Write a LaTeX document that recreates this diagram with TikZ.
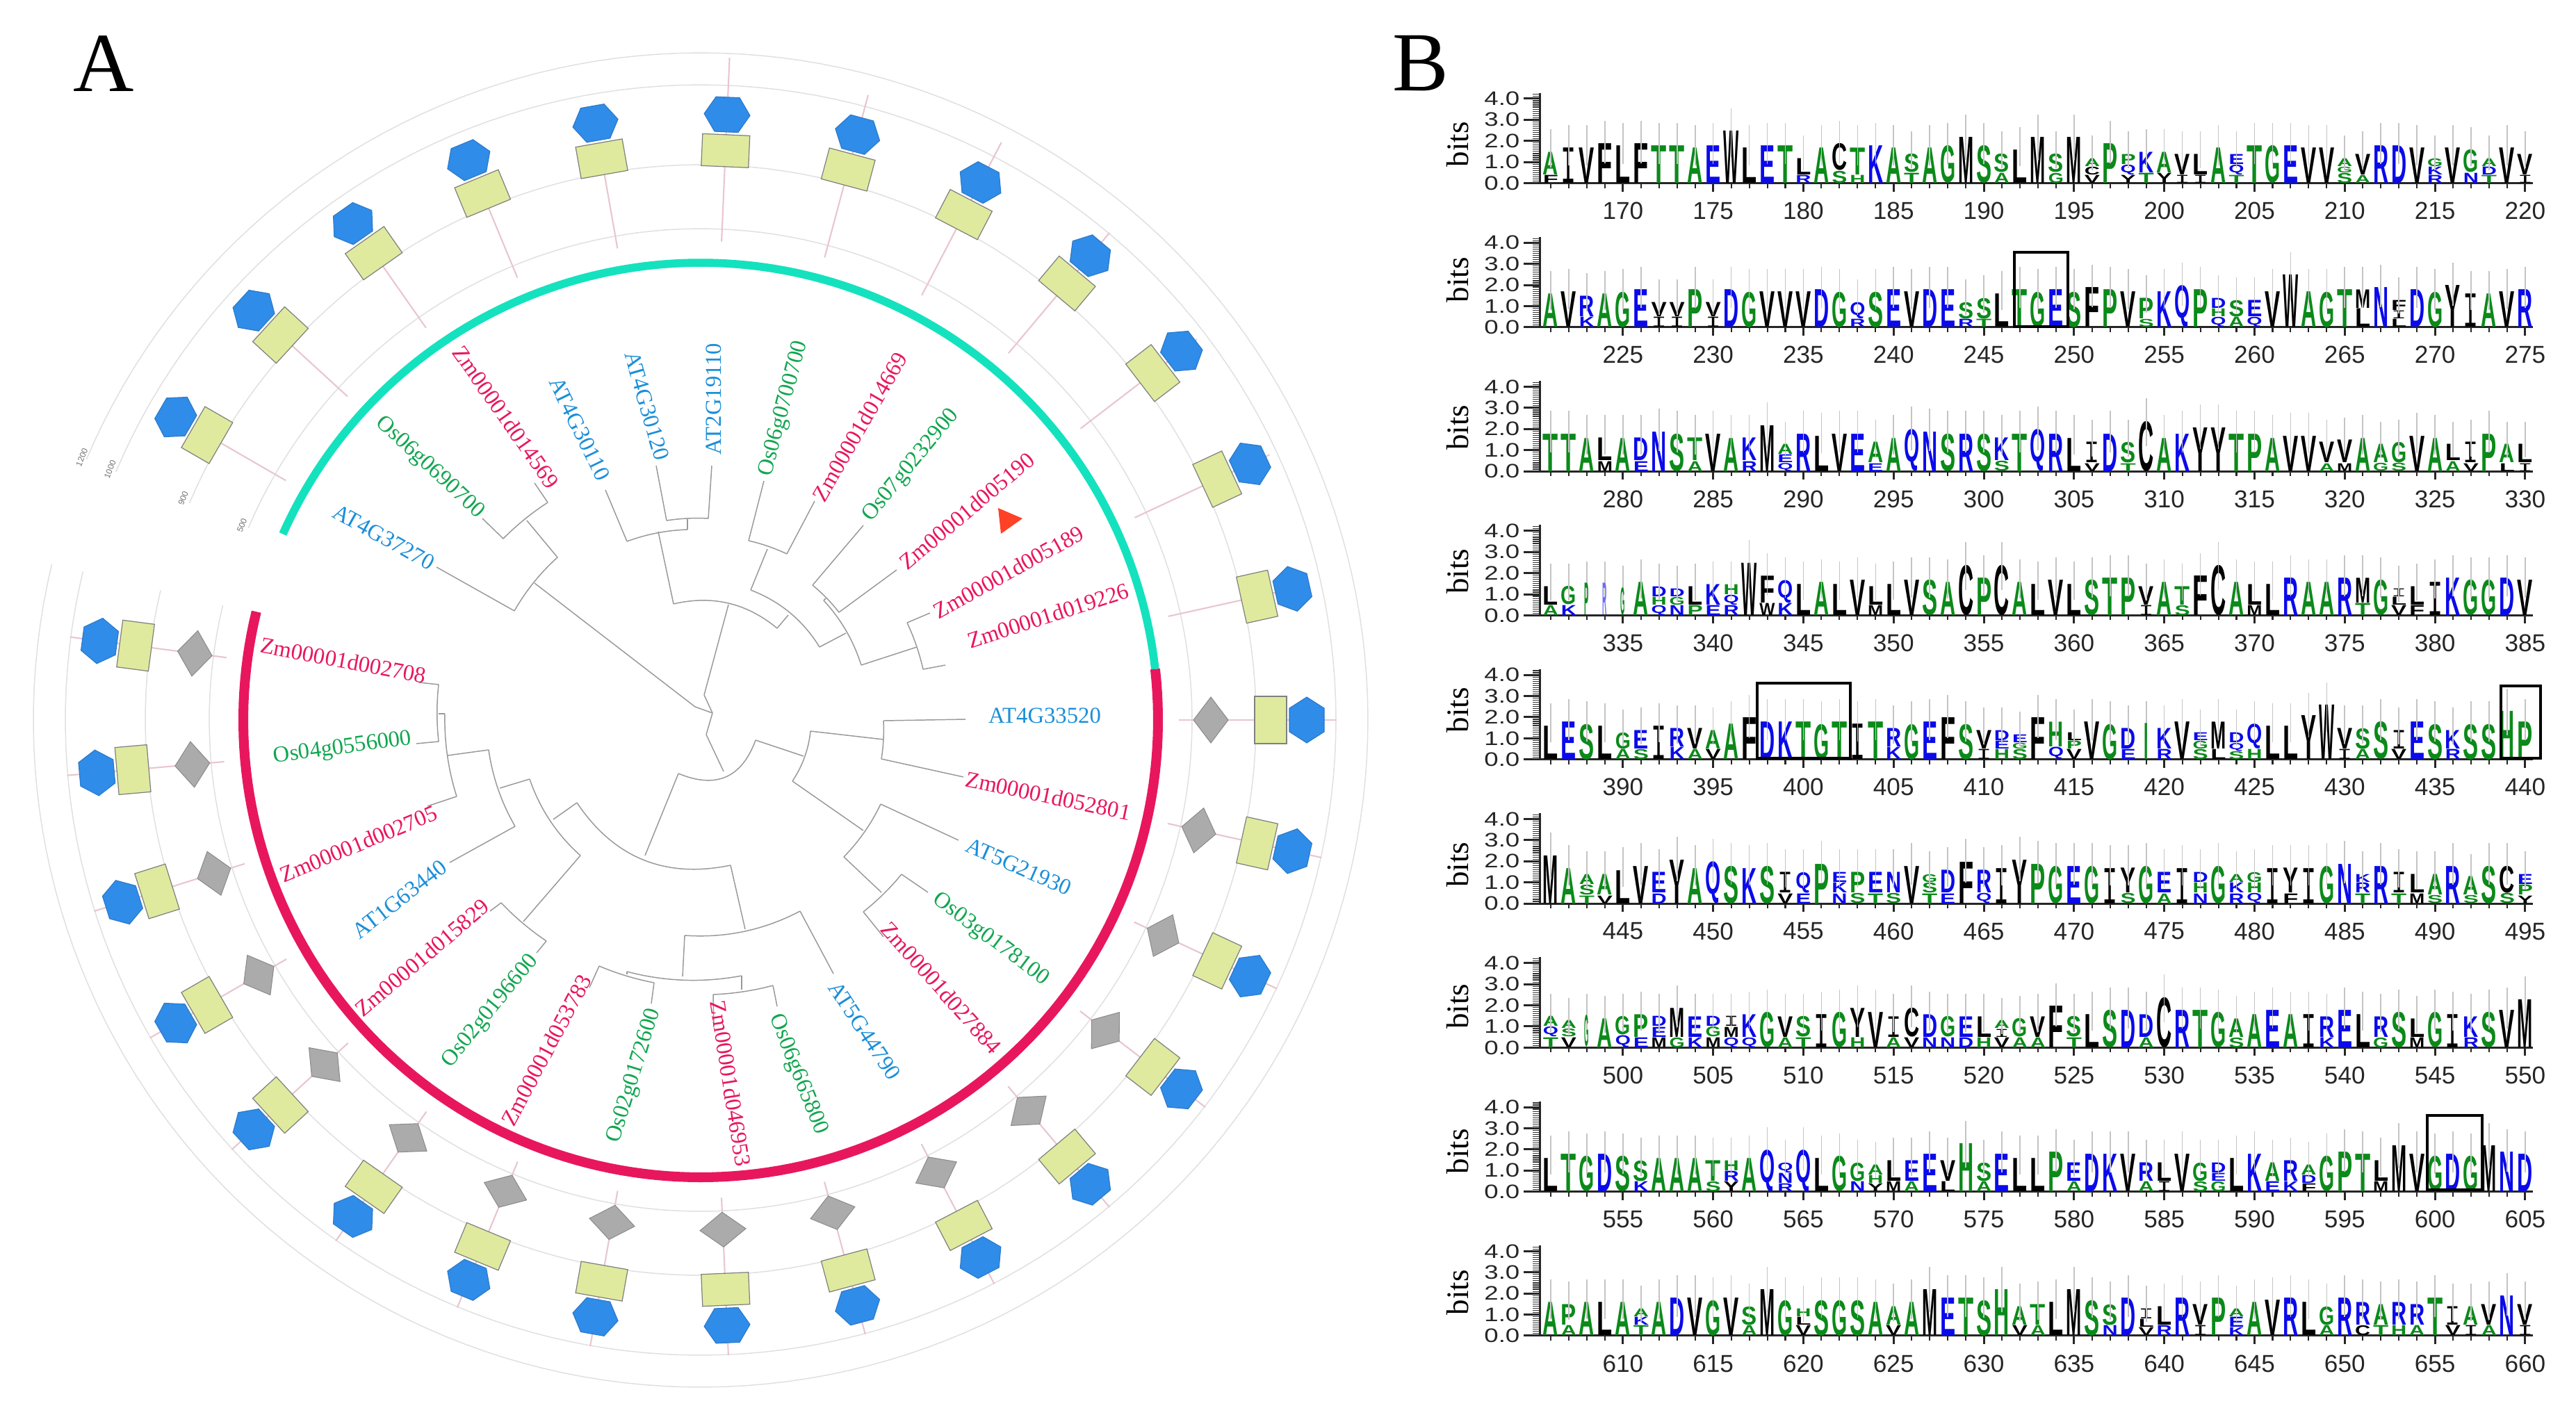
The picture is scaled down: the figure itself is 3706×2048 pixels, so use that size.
\documentclass[tikz,border=0pt]{standalone}
\usepackage{fontspec}
\usepackage{graphicx}
\setmainfont{Liberation Serif}
\newfontfamily\logosans{Liberation Sans}
\newfontfamily\logomono{Liberation Mono}
\definecolor{lggreen}{HTML}{0B8A1A}
\definecolor{lgblue}{HTML}{0A0AEB}
\definecolor{lgblack}{HTML}{000000}
\definecolor{zmred}{HTML}{E8175D}
\definecolor{atblue}{HTML}{1B8FD8}
\definecolor{osgreen}{HTML}{12A650}
\definecolor{spokepink}{HTML}{E9C6CE}
\definecolor{rectfill}{HTML}{DFEA9E}
\definecolor{hexfill}{HTML}{2F8CE8}
\definecolor{hexline}{HTML}{2B78C8}
\colorlet{lgA}{lggreen}\colorlet{lgT}{lggreen}\colorlet{lgS}{lggreen}\colorlet{lgG}{lggreen}\colorlet{lgP}{lggreen}\colorlet{lgH}{lggreen}
\colorlet{lgF}{lgblack}\colorlet{lgL}{lgblack}\colorlet{lgV}{lgblack}\colorlet{lgW}{lgblack}\colorlet{lgM}{lgblack}\colorlet{lgI}{lgblack}\colorlet{lgY}{lgblack}\colorlet{lgC}{lgblack}
\colorlet{lgE}{lgblue}\colorlet{lgD}{lgblue}\colorlet{lgK}{lgblue}\colorlet{lgR}{lgblue}\colorlet{lgQ}{lgblue}\colorlet{lgN}{lgblue}
\colorlet{lgX}{lgblack}
\tikzset{
  ring/.style={draw=black!12,line width=.42pt},
  spoke/.style={draw=spokepink,line width=.6pt},
  rectst/.style={draw=black!50,fill=rectfill,line width=.35pt},
  hexst/.style={draw=hexline,fill=hexfill,line width=.3pt},
  diamst/.style={draw=black!45,fill=black!33,line width=.3pt},
  branch/.style={draw=black!40,line width=.42pt},
  zmlab/.style={text=zmred,font=\fontsize{9.3}{11}\selectfont,inner sep=0pt},
  atlab/.style={text=atblue,font=\fontsize{9.3}{11}\selectfont,inner sep=0pt},
  oslab/.style={text=osgreen,font=\fontsize{9.3}{11}\selectfont,inner sep=0pt},
  panel/.style={font=\fontsize{34.4}{40}\selectfont,inner sep=0pt,anchor=base},
  axline/.style={draw=black!85,line width=.85pt},
  minortick/.style={draw=black!80,line width=.33pt},
  errbar/.style={draw=black!23,line width=.45pt},
  motif/.style={draw=black,line width=1.1pt},
  letterst/.style={inner sep=0pt,outer sep=0pt,anchor=south},
  ticklab/.style={font=\logosans\fontsize{10}{12}\selectfont,text=black!85,inner sep=0pt},
  ylab/.style={font=\logosans\fontsize{8}{9}\selectfont,text=black!85,inner sep=0pt,anchor=east},
  bitslab/.style={font=\fontsize{12.8}{14}\selectfont,inner sep=0pt,rotate=90},
  scalelab/.style={font=\logosans\fontsize{3.4}{4}\selectfont,text=black!55,inner sep=0pt,rotate=68}
}
\newcommand{\K}[3]{\coordinate (#1) at (#2,#3);\expandafter\gdef\csname kx#1\endcsname{#2}\expandafter\gdef\csname ky#1\endcsname{#3}}
\newcommand{\Arc}[2]{%
  \pgfmathsetmacro\tax{(\csname kx#1\endcsname-1008)/100}%
  \pgfmathsetmacro\tay{(\csname ky#1\endcsname-1036)/100}%
  \pgfmathsetmacro\tbx{(\csname kx#2\endcsname-1008)/100}%
  \pgfmathsetmacro\tby{(\csname ky#2\endcsname-1036)/100}%
  \pgfmathsetmacro\tmx{(\tax+\tbx)/2}%
  \pgfmathsetmacro\tmy{(\tay+\tby)/2}%
  \pgfmathsetmacro\tf{((\tax*\tax+\tay*\tay+\tbx*\tbx+\tby*\tby)/2)/(\tmx*\tmx+\tmy*\tmy)}%
  \pgfmathsetmacro\tcx{\tmx*\tf}%
  \pgfmathsetmacro\tcy{\tmy*\tf}%
  \pgfmathsetmacro\taa{1008+100*(\tax+(\tcx-\tax)*2/3)}%
  \pgfmathsetmacro\tab{1036+100*(\tay+(\tcy-\tay)*2/3)}%
  \pgfmathsetmacro\tba{1008+100*(\tbx+(\tcx-\tbx)*2/3)}%
  \pgfmathsetmacro\tbb{1036+100*(\tby+(\tcy-\tby)*2/3)}%
  \draw[branch] (#1) .. controls (\taa,\tab) and (\tba,\tbb) .. (#2);%
}
\newcount\stackh
\def\parseitm#1#2\relax{\def\lgL{#1}\def\lgH{#2}}
\def\lgskip{X}
\def\lgItxt{I}
\newcommand{\lgglyph}[3]{\textcolor{lg#1}{\resizebox*{#2}{#3}{\edef\tmpL{#1}\ifx\tmpL\lgItxt\logomono\else\logosans\bfseries\fi #1}}}
\newcommand{\logorow}[4]{%
  \pgfmathsetmacro\basey{263.5+207.3*#1}%
  \node[bitslab] (bits#1) at (2097,\basey-#3) {bits};
  \foreach \v in {0,...,42}{%
    \draw[minortick] (2205,\basey-3.04*\v) -- (2216,\basey-3.04*\v);
  }
  \foreach \v in {0,...,4}{%
    \draw[axline] (2192,\basey-30.4*\v) -- (2216,\basey-30.4*\v);
    \node[ylab] (y#1-\v) at (2187,\basey-30.4*\v) {\scalebox{1.3}[1]{\v.0}};
  }
  \draw[axline] (2215.7,\basey-130) -- (2215.7,\basey);
  \draw[axline] (2192,\basey) -- (3644,\basey);
  \foreach \stk [count=\i from 0] in {#4}{%
    \pgfmathsetmacro\xx{2231+25.96*\i}%
    \pgfmathtruncatemacro\pn{#2+\i}%
    \pgfmathtruncatemacro\md{mod(\pn,5)}%
    \ifnum\md=0
      \draw[axline] (\xx,\basey) -- (\xx,\basey+12);
      \node[ticklab] (t\pn) at (\xx,\basey+40) {\pn};
    \else
      \draw[axline,line width=.6pt] (\xx,\basey) -- (\xx,\basey+7);
    \fi
    \global\stackh=0
    \foreach \itm [count=\j] in \stk {%
      \expandafter\parseitm\itm\relax
      \pgfmathsetmacro\ly{\basey-3.04*\the\stackh}%
      \pgfmathsetmacro\lh{\lgH*.865-.25}%
      \ifx\lgL\lgskip\else
        \node[letterst] (l#1-\i-\j) at (\xx,\ly) {\lgglyph{\lgL}{6.3pt}{\lh pt}};
      \fi
      \global\advance\stackh by \lgH\relax
    }
    \draw[errbar] (\xx,\basey-3.04*\the\stackh*.5) -- (\xx,\basey-3.04*\the\stackh-32);
  }
}
\newcommand{\thinlet}[5]{%
  \pgfmathsetmacro\lh{#4*.865}%
  \node[inner sep=0pt,anchor=south] (thin#1-#2) at ({2231+25.96*#2},{263.5+207.3*#1}) {\textcolor{#5}{\resizebox*{1.8pt}{\lh pt}{\logosans\bfseries #3}}};
}
\begin{document}
\begin{tikzpicture}[x=.01cm,y=-.01cm]
\useasboundingbox (0,0) rectangle (3706,2048);
\fill[white] (0,0) rectangle (3706,2048);
\node[panel] (panelA) at (149,131) {A};
\node[panel] (panelB) at (2044,130) {B};
%% rings and markers
\begin{scope}[shift={(1008,1036)},x=.01cm,y=.01cm]
  \foreach \r in {707,799,914,960}
    \draw[ring] plot[domain=166.5:517,samples=200,variable=\a] (\a:\r);
  \foreach \s/\r/\p in {1200/967/157,1000/923/157,900/810/156.8,500/717/157}{
    \node[scalelab] (sc\s) at (\p:\r) {\s};
  }
  \foreach \t/\e in {12.5/885,25/903,37.5/900,50/915,62.5/937,75/931,87.5/954,100/800,112.5/800,125/800,137.5/800,150/800}{
    \draw[spoke] (\t:689) -- (\t:\e);
    \draw[rectst,shift={(\t:820)},rotate=\t] (-23,-34) rectangle (23,34);
    \draw[hexst,shift={(\t:872)},rotate=\t] (0,-33) -- (25,-17) -- (25,17) -- (0,33) -- (-25,17) -- (-25,-17) -- cycle;
  }
  \foreach \k in {0,...,15}{
    \pgfmathsetmacro\t{360-12.5*\k}
    \draw[spoke] (\t:688) -- (\t:915);
    \draw[diamst,shift={(\t:734)},rotate=\t] (0,-33) -- (25,0) -- (0,33) -- (-25,0) -- cycle;
    \draw[rectst,shift={(\t:820)},rotate=\t] (-23,-34) rectangle (23,34);
    \draw[hexst,shift={(\t:872)},rotate=\t] (0,-33) -- (25,-17) -- (25,17) -- (0,33) -- (-25,17) -- (-25,-17) -- cycle;
  }
  \draw[draw={rgb,255:red,20;green,226;blue,190},line width=3.3pt] plot[domain=156:6.4,samples=120,variable=\a] (\a:658);
  \draw[draw=zmred,line width=4pt] plot[domain=166.3:366.4,samples=140,variable=\a] (\a:658);
\end{scope}
%% tree knots
\K{a1}{628}{816}\K{a2}{740}{879}\K{a3}{802}{802}\K{a4}{758}{749}\K{a5}{724}{775}\K{a6}{788}{723}\K{a7}{694}{746}\K{a8}{769}{695}\K{a9}{769}{839}
\K{c0}{1000}{1017}\K{c1}{1025}{1026}\K{c3}{1013}{1000}
\K{b1}{871}{705}\K{b2}{902}{779}\K{b3}{944}{670}\K{b4}{959}{749}\K{b5}{1024}{670}\K{b6}{1019}{746}\K{b7}{989}{747}\K{b8}{989}{762}\K{b9}{947}{765}\K{b10}{969}{869}\K{b11}{1118}{904}\K{b12}{1048}{870}\K{b13}{1134}{885}
\K{d1}{1080}{849}\K{d2}{1179}{931}\K{d3}{1104}{790}\K{d4}{1077}{778}\K{d5}{1132}{797}\K{d6}{1099}{692}\K{d7}{1172}{721}
\K{e1}{1217}{911}\K{e2}{1185}{864}\K{e3}{1239}{957}\K{f1}{1169}{842}\K{f2}{1207}{881}\K{f3}{1242}{756}\K{f4}{1290}{820}\K{f5}{1188}{861}
\K{g1}{1319}{931}\K{g2}{1305}{896}\K{g3}{1328}{963}\K{g4}{1338}{882}\K{g5}{1360}{957}
\K{h1}{1389}{1035}\K{h2}{1271}{1037}\K{h3}{1386}{1118}\K{h4}{1268}{1092}\K{h5}{1271}{1064}\K{h6}{1166}{1052}\K{h7}{1140}{1124}\K{h8}{1156}{1088}\K{h9}{1087}{1065}\K{h10}{1041}{1110}\K{h11}{1016}{1057}
\K{j1}{1242}{1195}\K{j2}{1267}{1157}\K{j3}{1214}{1233}\K{j4}{1379}{1209}\K{j5}{1268}{1284}\K{j6}{1297}{1258}\K{j7}{1242}{1312}\K{j8}{1335}{1284}\K{j9}{1271}{1348}
\K{k1}{1051}{1245}\K{k2}{1072}{1337}\K{k3}{1151}{1311}\K{k4}{985}{1346}\K{k5}{1199}{1401}\K{k6}{982}{1405}\K{k7}{902}{1398}\K{k8}{1067}{1404}\K{k9}{1067}{1424}\K{k10}{1026}{1431}\K{k11}{1112}{1418}\K{k12}{1027}{1478}\K{k13}{1118}{1448}\K{k14}{862}{1390}\K{k15}{941}{1414}\K{k16}{848}{1421}\K{k17}{937}{1444}\K{k18}{902}{1402}
\K{m1}{928}{1231}\K{m2}{976}{1113}
\K{n1}{603}{982}\K{n2}{631}{985}\K{n3}{599}{1070}\K{n4}{631}{1067}\K{n5}{631}{1027}\K{n6}{640}{1027}\K{n7}{657}{1146}\K{n8}{615}{1160}\K{n9}{644}{1087}\K{n10}{703}{1079}\K{n11}{741}{1189}\K{n12}{647}{1241}\K{n13}{719}{1134}\K{n14}{762}{1121}\K{n15}{835}{1231}\K{n16}{753}{1326}
\K{o1}{721}{1299}\K{o2}{786}{1354}\K{o3}{705}{1311}\K{o4}{772}{1371}\K{o5}{796}{1179}\K{o6}{830}{1155}
%% tree straight branches
\foreach \u/\w in {a1/a2,a3/a4,a7/a5,a8/a6,a9/c0,b1/b2,b3/b4,b5/b6,b7/b8,b9/b10,b12/c3,b11/b13,d3/d1,d6/d4,d7/d5,d2/e1,f3/f1,f4/f2,f5/e2,e3/g1,g4/g2,g5/g3,h1/h2,h3/h4,h5/h6,h8/h9,h10/h11,h7/j1,j4/j2,j3/j5,j8/j6,j9/j7,k1/k2,k5/k3,k4/k6,k8/k9,k12/k10,k13/k11,k16/k14,k17/k15,k7/k18,m1/m2,n1/n2,n3/n4,n5/n6,n8/n7,n9/n10,n12/n11,n13/n14,n15/n16,o3/o1,o4/o2,o5/o6,c0/c1,c1/h11,c3/c1}
  \draw[branch] (\u) -- (\w);
%% tree arcs
\Arc{a2}{a3}\Arc{a5}{a6}\Arc{b4}{b6}\Arc{b2}{b8}\Arc{b10}{b11}\Arc{d1}{d2}\Arc{d4}{d5}\Arc{e2}{e3}\Arc{f1}{f2}\Arc{g2}{g3}
\Arc{h2}{h4}\Arc{h6}{h7}\Arc{h9}{m2}\Arc{j2}{j3}\Arc{j6}{j7}\Arc{o6}{k1}\Arc{k3}{k4}\Arc{k7}{k8}\Arc{k10}{k11}\Arc{k14}{k15}
\Arc{n2}{n4}\Arc{n6}{n7}\Arc{n10}{n11}\Arc{n14}{n15}\Arc{o1}{o2}
%% leaf labels
\node[atlab,rotate=-29] (AT4G37270) at (552,773) {AT4G37270};
\node[oslab,rotate=-43] (Os06g0690700) at (618,673) {Os06g0690700};
\node[zmlab,rotate=-55] (Zm00001d014569) at (728,600) {Zm00001d014569};
\node[atlab,rotate=-64] (AT4G30110) at (834,617) {AT4G30110};
\node[atlab,rotate=-74] (AT4G30120) at (931,584) {AT4G30120};
\node[atlab,rotate=90] (AT2G19110) at (1027,574) {AT2G19110};
\node[oslab,rotate=75] (Os06g0700700) at (1128,588) {Os06g0700700};
\node[zmlab,rotate=60] (Zm00001d014669) at (1237,614) {Zm00001d014669};
\node[oslab,rotate=50.6] (Os07g0232900) at (1311,670) {Os07g0232900};
\node[zmlab,rotate=40] (Zm00001d005190) at (1391,735) {Zm00001d005190};
\node[zmlab,rotate=29] (Zm00001d005189) at (1451,823) {Zm00001d005189};
\node[zmlab,rotate=18] (Zm00001d019226) at (1508,886) {Zm00001d019226};
\node[atlab] (AT4G33520) at (1503,1030) {AT4G33520};
\node[zmlab,rotate=-11.8] (Zm00001d052801) at (1508,1145) {Zm00001d052801};
\node[atlab,rotate=-23.6] (AT5G21930) at (1466,1247) {AT5G21930};
\node[oslab,rotate=-37] (Os03g0178100) at (1425,1352) {Os03g0178100};
\node[zmlab,rotate=-48.4] (Zm00001d027884) at (1354,1421) {Zm00001d027884};
\node[atlab,rotate=-57] (AT5G44790) at (1244,1483) {AT5G44790};
\node[oslab,rotate=-68.5] (Os06g665800) at (1148,1546) {Os06g665800};
\node[zmlab,rotate=-81] (Zm00001d046953) at (1051,1559) {Zm00001d046953};
\node[oslab,rotate=73] (Os02g0172600) at (913,1548) {Os02g0172600};
\node[zmlab,rotate=62] (Zm00001d053783) at (786,1511) {Zm00001d053783};
\node[oslab,rotate=50.7] (Os02g0196600) at (706,1455) {Os02g0196600};
\node[zmlab,rotate=40.4] (Zm00001d015829) at (607,1378) {Zm00001d015829};
\node[atlab,rotate=38] (AT1G63440) at (575,1294) {AT1G63440};
\node[zmlab,rotate=22.4] (Zm00001d002705) at (516,1214) {Zm00001d002705};
\node[oslab,rotate=7.6] (Os04g0556000) at (493,1077) {Os04g0556000};
\node[zmlab,rotate=-10.5] (Zm00001d002708) at (494,950) {Zm00001d002708};
\fill[red!75!orange!85!white] (1436,731) -- (1471,746) -- (1440,768) -- cycle;
%% panel B
\logorow{0}{166}{56}{{F4,A11},I17,V17,F19,L18,F19,T18,T18,A17,E18,W25,L17,E18,T18,{R4,L8},A17,{S6,C13},{H4,T13},K18,A17,{T5,S9},A17,G18,M22,S18,{A5,S9},L16,M22,{G5,S9},M22,{V4,C4,A4},P19,{Y4,Q5,P5},{T5,K10},{Y5,A10},{I4,V10},{I4,L10},A17,{T4,Q5,E5},T18,G18,E18,V17,V17,{S5,G3,A4},{A4,V10},R18,D18,V17,{R4,K4,G4},V17,{N5,G11},{T4,D4,A4},V17,{I4,V10}}
\logorow{1}{221}{68}{A16,V17,{K5,R10},A16,G17,E18,{I5,V7},{I5,V7},P18,{I5,V7},D18,G17,V17,V17,V17,D18,G17,{R4,Q8},S17,E18,V17,D18,E18,{R4,S8},{T4,S10},L16,T18,G17,E18,S17,F19,P18,V17,{S4,P10},K17,Q20,P18,{Q5,H4,D5},{A5,S8},{Q5,E8},V17,W25,A17,G17,T18,{L9,M9},N19,{L4,I4,F5},D18,G17,Y20,I16,A16,V17,R18}
\logorow{2}{276}{63}{T18,T18,A16,{M5,L11},A16,{E5,D11},N19,S18,{A5,T11},V18,A16,{R5,K11},M22,{Q4,E4,A5},R18,L17,V18,E18,{E4,A10},A16,Q20,N19,S18,R18,S18,{S5,K11},T18,Q20,R18,L16,{V4,I10},D18,{T4,S10},C24,A16,K18,Y21,Y21,T18,P18,A16,V17,V17,{A4,V10},{M4,V11},A16,{G4,A9},{S4,G10},V17,A16,{A5,L8},{V4,I10},P18,{L4,A9},{I4,L9}}
\logorow{3}{331}{63}{{A5,L9},{K5,G9},X15,X15,X13,A16,{Q5,H4,D5},{N5,G4,D4},{P5,L9},{E5,K10},{R5,Q5,H5},W25,{W6,F13},{K6,Q11},L15,A16,L15,V17,{M5,L9},L15,V17,S17,A16,C24,P18,C24,A16,L15,V17,L15,S17,T18,P18,{I5,V9},A16,{S5,T9},F19,C24,A16,{M5,L10},L15,R18,A16,A16,R18,{T6,M12},G17,{V5,L4,I4},{F5,L9},I16,K18,G17,G17,D18,V17}
\thinlet{3}{2}{P}{15}{lggreen}\thinlet{3}{3}{R}{15}{lgblue!60!white}\thinlet{3}{4}{G}{13}{lggreen}
\logorow{4}{386}{71}{L16,E18,S17,L16,{A5,G8},{S5,E9},I16,{K6,R9},{A5,V10},{V5,A9},A17,F20,D18,K18,T18,G17,T18,I17,T18,{K6,R9},G17,E18,F20,S17,{I5,V9},{H5,E4,D5},{S5,G3,E4},F20,{Q6,H12},{V5,P4,L4},V18,G17,{E5,D10},X17,{R5,K10},V18,{S5,G4,E4},{L5,M13},{S4,Q4,D5},{H5,Q12},L16,L16,Y21,W26,{I5,V10},{A5,S10},S18,{V5,I9},E18,S17,{R5,K9},S17,S17,H23,P18}
\thinlet{4}{33}{I}{17}{lggreen}
\logorow{5}{441}{56}{M23,A17,{T4,S5,A5},{V4,A10},L16,V18,{D5,E10},Y21,A17,Q20,S18,K17,S18,{V5,I10},{E5,Q10},P19,{N5,K5,E5},{S5,P10},{T5,E10},{S5,N10},V18,{T5,S5,G4},{E5,D11},F20,{Q5,R11},I17,Y21,P19,G18,E18,G18,I17,{S5,Y12},G18,{A5,E10},I17,{N5,H5,D5},G18,{R5,K5,A4},{Q5,H5,G5},I17,{F5,Y12},I17,G18,N19,{T5,R5,K4},R18,{T5,I10},{M5,L9},{S4,A10},R18,{S4,A9},S18,{S5,C13},{Y4,P5,E5}}
\logorow{6}{496}{59}{{T5,Q5,A5},{V5,S4,A4},X15,A14,{Q6,G9},{E5,P11},{M5,E5,D5},{G5,M14},{K5,E10},{M5,G5,D5},{Q5,M5,I5},{Q5,K11},G17,{A5,V10},{T5,S10},I16,G17,{H5,Y14},V17,{A5,I10},{V5,C14},{N5,D11},{N5,G10},{D5,E10},{H5,L10},{V5,I4,A4},{A5,G9},{A5,V10},F20,{T5,S10},L16,S18,D18,{A5,D11},C24,R18,T18,G17,{S5,A9},A16,E18,A16,I16,{K5,R10},E18,L16,{G5,R10},S17,{M5,L9},G17,I16,{R5,K10},S17,V18,M23}
\thinlet{6}{2}{G}{15}{lggreen}
\logorow{7}{551}{58}{L16,T18,G17,D18,S17,{K5,S10},A16,A16,A16,{S5,T10},{Y5,R5,H5},A16,Q20,{R4,N5,Q5},Q20,L16,G17,{N5,G9},{Y4,H4,A5},{M5,L10},{A5,E10},E18,{L5,V10},H23,{A5,S9},E18,L16,L16,P19,{A5,E9},D18,K18,V18,{A5,R9},{I5,L9},V18,{S5,G9},{G5,E4,D5},L16,K18,{E5,A9},{K5,R10},{F4,D4,A5},G17,P19,T18,{M5,L10},M22,V18,G17,D18,G17,M22,N19,D18}
\logorow{8}{606}{62}{A16,{A5,P10},A16,L16,A16,{T5,K4,A4},A16,D18,V18,G17,V18,{A5,S9},M22,G17,{V5,L4,H4},S17,G17,S17,A16,{V5,A9},A16,M22,E18,T18,S17,H22,{V5,A9},{A5,T10},L16,M22,S17,{N5,S10},D18,{V4,L4,I5},{R5,L9},R18,{I5,V10},P18,{K4,E5,A4},A16,V17,R18,L16,{A5,G9},R18,{C5,R11},{T5,A10},{H5,R11},{A5,R10},T18,{V5,I9},{I5,A9},{A5,V10},N19,{I5,V10}}
\draw[motif] (2898,470) rectangle (2975,363);
\draw[motif] (2528,1091) rectangle (2662,983);
\draw[motif] (3598,1091) rectangle (3655,987);
\draw[motif] (3492,1712) rectangle (3571,1605);
\end{tikzpicture}
\end{document}
